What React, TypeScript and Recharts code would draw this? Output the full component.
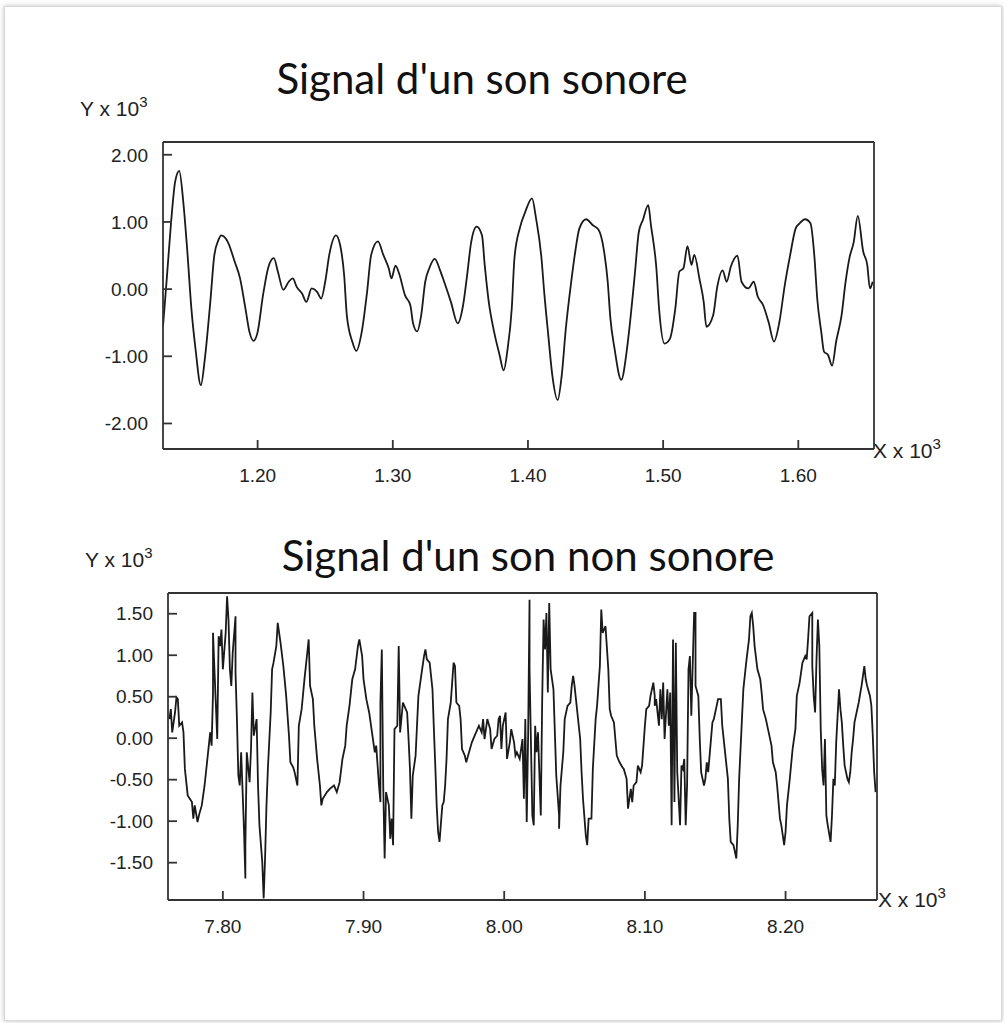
import { Line, LineChart, XAxis, YAxis } from "recharts";

// signal d'un son sonore (voiced) — x: sample index, y: amplitude x 10^3
const voicedX = [
  1130, 1133, 1136, 1139, 1142, 1145, 1148, 1151, 1154, 1158,
  1161, 1165, 1168, 1171, 1173, 1178, 1183, 1187, 1191, 1194,
  1197, 1200, 1204, 1208, 1212, 1215, 1219, 1223, 1226, 1229,
  1233, 1236, 1240, 1244, 1247, 1250, 1253, 1258, 1261, 1264,
  1266, 1270, 1273, 1277, 1281, 1284, 1289, 1293, 1297, 1299,
  1302, 1305, 1309, 1313, 1315, 1318, 1321, 1324, 1327, 1331,
  1335, 1338, 1343, 1348, 1352, 1355, 1358, 1362, 1366, 1368,
  1371, 1375, 1379, 1382, 1385, 1388, 1390, 1394, 1398, 1403,
  1406, 1410, 1412, 1415, 1418, 1422, 1425, 1428, 1432, 1435,
  1438, 1443, 1448, 1452, 1456, 1459, 1461, 1464, 1469, 1473,
  1475, 1479, 1482, 1485, 1489, 1491, 1495, 1497, 1501, 1505,
  1509, 1512, 1515, 1518, 1521, 1523, 1527, 1530, 1532, 1537,
  1540, 1544, 1547, 1550, 1555, 1558, 1563, 1567, 1570, 1574,
  1578, 1582, 1586, 1590, 1594, 1598, 1601, 1605, 1609, 1612,
  1614, 1617, 1619, 1622, 1625, 1628, 1632, 1635, 1638, 1641,
  1644, 1648, 1651, 1653, 1655,
];
const voicedY = [
  -0.56, 0.21, 1.0, 1.6, 1.76, 1.3, 0.56, -0.29, -0.88, -1.43,
  -1.03, -0.19, 0.51, 0.73, 0.8, 0.7, 0.41, 0.16, -0.29, -0.64,
  -0.77, -0.64, -0.09, 0.33, 0.46, 0.26, -0.01, 0.11, 0.16, 0.03,
  -0.07, -0.19, 0.01, -0.04, -0.14, 0.11, 0.51, 0.8, 0.66, 0.21,
  -0.39, -0.78, -0.92, -0.64, -0.04, 0.51, 0.71, 0.51, 0.31, 0.16,
  0.35, 0.21, -0.09, -0.24, -0.51, -0.63, -0.39, 0.11, 0.31, 0.45,
  0.28, 0.11, -0.19, -0.51, -0.24, 0.21, 0.7, 0.93, 0.8, 0.36,
  -0.19, -0.64, -0.98, -1.21, -0.88, -0.29, 0.46, 0.91, 1.15, 1.35,
  1.05, 0.46, -0.04, -0.68, -1.28, -1.65, -1.28, -0.59, 0.11, 0.56,
  0.9, 1.04, 0.95, 0.89, 0.6, 0.11, -0.44, -0.88, -1.35, -0.93,
  -0.59, 0.21, 0.85, 1.03, 1.25, 0.95, 0.31, -0.29, -0.81, -0.74,
  -0.29, 0.26, 0.31, 0.64, 0.36, 0.51, 0.14, -0.19, -0.56, -0.39,
  0.03, 0.28, 0.11, 0.33, 0.5, 0.11, 0.01, 0.11, -0.11, -0.24,
  -0.49, -0.78, -0.49, 0.06, 0.51, 0.9, 0.98, 1.04, 0.98, 0.46,
  -0.14, -0.64, -0.93, -0.98, -1.14, -0.78, -0.39, 0.11, 0.48, 0.7,
  1.09, 0.56, 0.36, 0.01, 0.11,
];

// signal d'un son non sonore (unvoiced)
const unvoicedX = [
  7762, 7763, 7764, 7766, 7767, 7768, 7769, 7771, 7772, 7773,
  7775, 7778, 7779, 7780, 7782, 7783, 7785, 7787, 7789, 7791,
  7792, 7793, 7793, 7794, 7796, 7797, 7798, 7799, 7800, 7802,
  7803, 7804, 7805, 7806, 7807, 7809, 7809, 7810, 7811, 7812,
  7813, 7815, 7816, 7816, 7817, 7819, 7820, 7821, 7822, 7824,
  7825, 7826, 7828, 7829, 7830, 7831, 7832, 7834, 7835, 7836,
  7838, 7839, 7841, 7843, 7845, 7847, 7848, 7850, 7851, 7853,
  7854, 7856, 7858, 7860, 7861, 7862, 7864, 7865, 7867, 7869,
  7870, 7871, 7874, 7876, 7879, 7881, 7883, 7885, 7887, 7888,
  7890, 7892, 7894, 7896, 7897, 7899, 7900, 7902, 7904, 7906,
  7907, 7908, 7909, 7911, 7912, 7912, 7913, 7914, 7915, 7916,
  7918, 7919, 7920, 7921, 7922, 7924, 7925, 7926, 7928, 7931,
  7932, 7933, 7934, 7935, 7937, 7938, 7939, 7941, 7943, 7944,
  7945, 7947, 7949, 7950, 7951, 7952, 7953, 7954, 7956, 7957,
  7958, 7959, 7960, 7962, 7963, 7964, 7965, 7966, 7968, 7969,
  7970, 7972, 7973, 7975, 7977, 7979, 7981, 7982, 7984, 7985,
  7986, 7988, 7990, 7991, 7993, 7995, 7996, 7997, 7998, 7999,
  8001, 8002, 8004, 8005, 8007, 8008, 8009, 8011, 8013, 8014,
  8015, 8016, 8017, 8018, 8018, 8020, 8021, 8022, 8023, 8024,
  8026, 8027, 8028, 8029, 8030, 8031, 8032, 8033, 8035, 8036,
  8037, 8039, 8039, 8040, 8042, 8043, 8045, 8047, 8048, 8049,
  8050, 8052, 8053, 8054, 8055, 8056, 8058, 8059, 8060, 8062,
  8063, 8065, 8066, 8067, 8068, 8069, 8070, 8071, 8072, 8074,
  8075, 8076, 8078, 8079, 8080, 8082, 8084, 8085, 8087, 8088,
  8090, 8091, 8092, 8094, 8095, 8097, 8098, 8099, 8100, 8101,
  8103, 8104, 8106, 8107, 8107, 8108, 8110, 8111, 8112, 8113,
  8114, 8116, 8117, 8118, 8119, 8120, 8121, 8122, 8123, 8125,
  8126, 8127, 8128, 8129, 8130, 8131, 8132, 8133, 8135, 8136,
  8136, 8138, 8139, 8140, 8142, 8143, 8144, 8145, 8146, 8148,
  8149, 8151, 8152, 8154, 8155, 8157, 8159, 8160, 8161, 8163,
  8164, 8165, 8166, 8167, 8169, 8170, 8172, 8174, 8175, 8176,
  8177, 8178, 8180, 8182, 8183, 8184, 8186, 8188, 8190, 8191,
  8193, 8194, 8196, 8197, 8199, 8200, 8201, 8203, 8205, 8207,
  8208, 8210, 8212, 8214, 8215, 8216, 8217, 8219, 8219, 8220,
  8221, 8222, 8223, 8224, 8225, 8226, 8227, 8228, 8229, 8230,
  8232, 8233, 8234, 8235, 8236, 8238, 8239, 8240, 8241, 8242,
  8244, 8245, 8246, 8247, 8248, 8249, 8252, 8254, 8256, 8257,
  8258, 8260, 8261, 8262, 8263, 8264,
];
const unvoicedY = [
  0.23, 0.35, 0.07, 0.31, 0.49, 0.47, 0.15, 0.19, 0.07, -0.37,
  -0.69, -0.77, -0.97, -0.81, -1.01, -0.93, -0.81, -0.57, -0.25, 0.07,
  -0.09, 0.55, 1.27, 0.83, -0.01, 1.23, 1.11, 1.31, 0.83, 1.27,
  1.71, 1.43, 0.83, 0.63, 1.03, 1.47, 0.79, 0.23, -0.45, -0.57,
  -0.17, -1.09, -1.69, -1.29, -0.17, -0.53, -0.13, 0.55, 0.03, 0.23,
  -0.57, -1.05, -1.49, -1.93, -1.45, -0.81, -0.37, 0.31, 0.83, 0.91,
  1.11, 1.39, 1.15, 0.87, 0.51, 0.03, -0.29, -0.35, -0.41, -0.57,
  0.15, 0.35, 0.71, 1.03, 1.19, 0.63, 0.47, 0.15, -0.25, -0.57,
  -0.81, -0.73, -0.65, -0.61, -0.57, -0.65, -0.53, -0.25, -0.09, 0.15,
  0.39, 0.71, 0.83, 1.11, 1.19, 0.99, 0.71, 0.47, 0.31, 0.07,
  -0.05, -0.17, -0.09, -0.57, -0.77, 0.43, 1.07, -0.57, -1.45, -0.65,
  -0.81, -1.21, -0.97, -1.29, 0.11, 0.15, 1.11, 0.07, 0.43, 0.31,
  -0.01, -0.37, -0.97, -0.45, -0.21, 0.15, 0.51, 0.75, 0.99, 1.07,
  0.95, 0.91, 0.59, 0.11, -0.33, -0.81, -1.13, -1.25, -0.81, -0.77,
  -0.57, -0.25, 0.23, 0.43, 0.67, 0.91, 0.87, 0.43, 0.39, 0.23,
  -0.13, -0.21, -0.29, -0.17, -0.05, 0.03, 0.11, 0.15, 0.07, 0.23,
  -0.01, 0.23, 0.11, -0.13, -0.01, 0.03, 0.23, 0.27, -0.13, 0.15,
  0.31, -0.25, -0.05, 0.11, -0.05, -0.21, -0.17, -0.25, -0.01, -0.73,
  0.23, -1.01, 0.03, 1.67, 0.83, -0.93, -1.05, 0.15, -0.17, 0.07,
  -0.93, 0.47, 1.43, 1.07, 1.51, 0.55, 1.63, 0.83, 0.59, 0.07,
  -0.45, -0.93, -1.09, -0.57, -0.17, 0.23, 0.39, 0.43, 0.63, 0.75,
  0.63, 0.31, 0.15, -0.01, -0.41, -0.73, -1.17, -1.29, -0.97, -0.97,
  -0.37, 0.23, 0.39, 0.63, 0.87, 1.55, 1.27, 1.31, 1.35, 0.83,
  0.35, 0.27, 0.19, -0.01, -0.21, -0.29, -0.35, -0.37, -0.49, -0.85,
  -0.61, -0.77, -0.57, -0.53, -0.33, -0.41, -0.33, -0.09, 0.15, 0.35,
  0.39, 0.51, 0.67, 0.51, 0.39, 0.47, 0.15, 0.59, 0.23, 0.67,
  -0.01, 0.59, 0.15, 0.55, -1.05, 1.19, -0.77, 1.15, -0.41, -1.05,
  -0.33, -0.37, -0.25, -1.05, -0.57, 0.83, 0.99, 0.27, 1.51, 1.51,
  0.63, 0.51, -0.01, -0.41, -0.57, -0.49, -0.29, -0.41, -0.21, 0.19,
  0.23, 0.39, 0.47, 0.47, 0.15, -0.17, -0.49, -0.97, -1.25, -1.29,
  -1.37, -1.45, -1.05, -0.49, 0.23, 0.59, 0.91, 1.19, 1.47, 1.51,
  1.35, 1.11, 0.83, 0.71, 0.55, 0.35, 0.23, 0.07, -0.09, -0.29,
  -0.41, -0.57, -0.97, -1.05, -1.29, -1.13, -0.81, -0.49, -0.13, 0.11,
  0.51, 0.67, 0.91, 0.99, 0.95, 1.19, 1.47, 1.51, 0.87, 0.51,
  0.31, 0.95, 1.43, 1.11, 0.11, -0.37, -0.57, -0.01, -0.93, -1.05,
  -1.25, -0.93, -0.49, -0.57, -0.05, 0.59, 0.35, 0.19, -0.09, -0.33,
  -0.49, -0.53, -0.41, -0.17, -0.01, 0.19, 0.43, 0.63, 0.87, 0.71,
  0.63, 0.51, 0.39, 0.03, -0.41, -0.65,
];

const voicedXTicks = [1200, 1300, 1400, 1500, 1600];
const voicedYTicks = [-2, -1, 0, 1, 2];
const unvoicedXTicks = [7800, 7900, 8000, 8100, 8200];
const unvoicedYTicks = [-1.5, -1, -0.5, 0, 0.5, 1, 1.5];

const voicedData = voicedX.map((x, i) => ({ x, y: voicedY[i] }));
const unvoicedData = unvoicedX.map((x, i) => ({ x, y: unvoicedY[i] }));

const AXIS = "#333";
const TICK = 9;
const tickFont = { fontSize: 19, fill: "#222", fontFamily: "Liberation Sans, Arial, sans-serif" };
const fmtX = (v: number) => (v / 1000).toFixed(2);
const fmtY = (v: number) => v.toFixed(2);

type PanelProps = {
  left: number;
  top: number;
  plotW: number;
  plotH: number;
  data: { x: number; y: number }[];
  xDomain: [number, number];
  yDomain: [number, number];
  xTicks: number[];
  yTicks: number[];
  curve: "monotone" | "linear";
};

function SignalPanel({ left, top, plotW, plotH, data, xDomain, yDomain, xTicks, yTicks, curve }: PanelProps) {
  const margin = { top: 20, right: 10, bottom: 10, left: 0 };
  return (
    <div style={{ position: "absolute", left, top }}>
      <LineChart width={70 + plotW + 10 + 1} height={20 + plotH + 45 + 10 + 1} data={data} margin={margin}>
        <XAxis
          xAxisId="b"
          dataKey="x"
          type="number"
          domain={xDomain}
          ticks={xTicks}
          allowDataOverflow
          tickFormatter={fmtX}
          tickSize={-TICK}
          tickMargin={TICK + 20}
          height={45}
          stroke={AXIS}
          strokeWidth={1.8}
          tick={tickFont}
        />
        <XAxis
          xAxisId="t"
          orientation="top"
          dataKey="x"
          type="number"
          domain={xDomain}
          ticks={xTicks}
          allowDataOverflow
          tickSize={-TICK}
          height={1}
          stroke={AXIS}
          strokeWidth={1.8}
          tick={false}
        />
        <YAxis
          yAxisId="l"
          type="number"
          domain={yDomain}
          ticks={yTicks}
          allowDataOverflow
          tickFormatter={fmtY}
          tickSize={-TICK}
          tickMargin={TICK + 15}
          width={70}
          stroke={AXIS}
          strokeWidth={1.8}
          tick={tickFont}
        />
        <YAxis
          yAxisId="r"
          orientation="right"
          type="number"
          domain={yDomain}
          ticks={yTicks}
          allowDataOverflow
          tickSize={-TICK}
          width={1}
          stroke={AXIS}
          strokeWidth={1.8}
          tick={false}
        />
        <Line
          xAxisId="b"
          yAxisId="l"
          dataKey="y"
          type={curve}
          stroke="#1a1a1a"
          strokeWidth={1.8}
          dot={false}
          isAnimationActive={false}
        />
      </LineChart>
    </div>
  );
}

const labelFont: React.CSSProperties = {
  position: "absolute",
  fontFamily: "Liberation Sans, Arial, sans-serif",
  fontSize: 21,
  lineHeight: "21px",
  color: "#222",
  whiteSpace: "nowrap",
};
const titleFont: React.CSSProperties = {
  position: "absolute",
  fontFamily: "Lato, sans-serif",
  fontSize: 42,
  lineHeight: "48px",
  color: "#111",
  whiteSpace: "nowrap",
  transform: "translateX(-50%)",
};

function Unit({ axis, left, top }: { axis: string; left: number; top: number }) {
  return (
    <div style={{ ...labelFont, left, top }}>
      {axis} x 10<span style={{ fontSize: 15, position: "relative", top: -9 }}>3</span>
    </div>
  );
}

export default function App() {
  return (
    <div style={{ position: "absolute", left: 0, top: 0, width: 1004, height: 1023, background: "#fff", overflow: "hidden" }}>
      <div
        style={{
          position: "absolute",
          left: 4,
          top: 6,
          width: 996,
          height: 1013,
          border: "1px solid #d8d8d8",
          boxShadow: "0 0 5px rgba(0,0,0,0.25)",
          background: "#fff",
        }}
      />
      <div style={{ ...titleFont, left: 482, top: 54 }}>Signal d'un son sonore</div>
      <Unit axis="Y" left={80} top={98} />
      <Unit axis="X" left={873} top={440} />
      <SignalPanel
        left={93}
        top={121}
        plotW={711}
        plotH={307}
        data={voicedData}
        xDomain={[1130, 1656]}
        yDomain={[-2.38, 2.19]}
        xTicks={voicedXTicks}
        yTicks={voicedYTicks}
        curve="monotone"
      />

      <div style={{ ...titleFont, left: 528, top: 531 }}>Signal d'un son non sonore</div>
      <Unit axis="Y" left={85} top={549} />
      <Unit axis="X" left={878} top={889} />
      <SignalPanel
        left={98}
        top={572}
        plotW={709}
        plotH={307}
        data={unvoicedData}
        xDomain={[7761, 8265]}
        yDomain={[-1.95, 1.75]}
        xTicks={unvoicedXTicks}
        yTicks={unvoicedYTicks}
        curve="linear"
      />
    </div>
  );
}
